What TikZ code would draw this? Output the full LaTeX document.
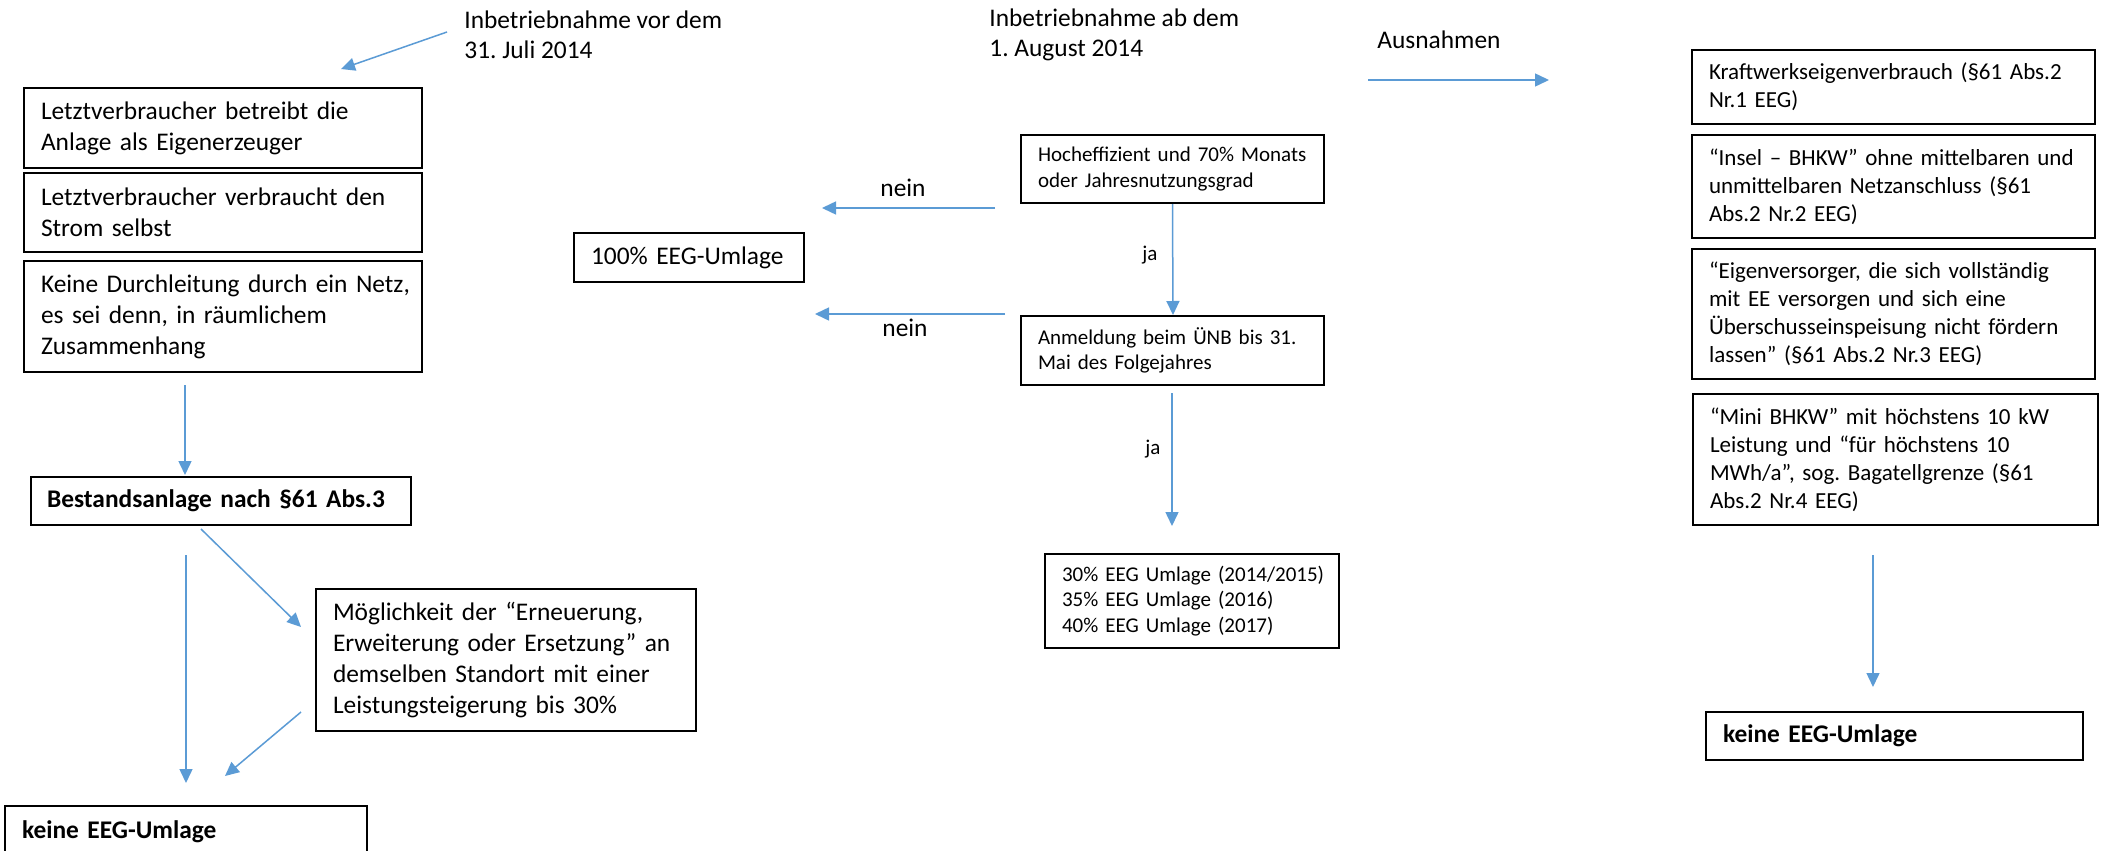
\documentclass[tikz,border=0pt]{standalone}
\usepackage{fontspec}
\setmainfont{Carlito}
\usetikzlibrary{arrows.meta}
\definecolor{arrowblue}{HTML}{5B9BD5}
\frenchspacing
\tikzset{
  bx/.style={draw=black, line width=1pt, inner xsep=8.5pt, inner ysep=0pt, align=left, anchor=center},
  fl/.style={font=\fontsize{12.7}{15.5}\selectfont},
  fr/.style={font=\fontsize{11.5}{14}\selectfont},
  fs/.style={font=\fontsize{10.5}{12.6}\selectfont},
  ft/.style={font=\fontsize{12.7}{15}\selectfont},
  conn/.style={draw=arrowblue, line width=0.75pt, -{Triangle[length=7pt,width=6.5pt]}},
  lbl/.style={inner sep=0pt, align=left}
}
\begin{document}
\begin{tikzpicture}[x=0.5pt, y=-0.5pt]
\path[fill=white] (0,0) rectangle (2101,851);
\useasboundingbox (0,0) rectangle (2101,851);

% titles
\node[lbl, ft, anchor=west] (t1) at (464,35) {Inbetriebnahme vor dem\\31. Juli 2014};
\node[lbl, ft, anchor=west] (t2) at (989,35) {Inbetriebnahme ab dem\\1. August 2014};
\node[lbl, ft, anchor=west] (t3) at (1377,40) {Ausnahmen};

% left column
\node[bx, fl, text width=182pt, minimum height=40pt] (L1) at (223,128) {\mbox{Letztverbraucher betreibt die}\\Anlage als Eigenerzeuger};
\node[bx, fl, text width=182pt, minimum height=39.5pt] (L2) at (223,212.5) {\mbox{Letztverbraucher verbraucht den}\\Strom selbst};
\node[bx, fl, text width=182pt, minimum height=55.5pt] (L3) at (223,316.5) {\mbox{Keine Durchleitung durch ein Netz,}\\\mbox{es sei denn, in räumlichem}\\Zusammenhang};
\node[bx, fl, text width=174pt, inner xsep=8pt, minimum height=24pt] (B) at (221,501) {\mbox{\textbf{Bestandsanlage nach §61 Abs.3}}};
\node[bx, fl, text width=173pt, minimum height=71pt] (M) at (506,660) {\mbox{Möglichkeit der “Erneuerung,}\\\mbox{Erweiterung oder Ersetzung” an}\\\mbox{demselben Standort mit einer}\\\mbox{Leistungsteigerung bis 30\%}};
\node[bx, fl, text width=164pt, minimum height=26pt] (KL) at (186,832) {\textbf{keine EEG-Umlage}};

% middle column
\node[bx, fs, text width=134.5pt, minimum height=34pt] (H) at (1172.5,169) {\mbox{Hocheffizient und 70\% Monats}\\oder Jahresnutzungsgrad};
\node[bx, fl, text width=98pt, minimum height=24.5pt] (P) at (689,257.5) {100\% EEG-Umlage};
\node[bx, fs, text width=134.5pt, minimum height=34.5pt] (A) at (1172.5,350.5) {\mbox{Anmeldung beim ÜNB bis 31.}\\Mai des Folgejahres};
\node[bx, fs, text width=130pt, minimum height=47pt] (U) at (1192,601) {\mbox{30\% EEG Umlage (2014/2015)}\\35\% EEG Umlage (2016)\\40\% EEG Umlage (2017)};

% right column
\node[bx, fr, text width=184.5pt, minimum height=37pt] (R1) at (1893.5,87) {\mbox{Kraftwerkseigenverbrauch (§61 Abs.2}\\Nr.1 EEG)};
\node[bx, fr, text width=184.5pt, minimum height=51.5pt] (R2) at (1893.5,186.5) {\mbox{“Insel – BHKW” ohne mittelbaren und}\\\mbox{unmittelbaren Netzanschluss (§61}\\Abs.2 Nr.2 EEG)};
\node[bx, fr, text width=184.5pt, minimum height=65pt] (R3) at (1893.5,314) {\mbox{“Eigenversorger, die sich vollständig}\\\mbox{mit EE versorgen und sich eine}\\\mbox{Überschusseinspeisung nicht fördern}\\\mbox{lassen” (§61 Abs.2 Nr.3 EEG)}};
\node[bx, fr, text width=185.5pt, minimum height=65.5pt] (R4) at (1895.5,459.5) {\mbox{“Mini BHKW” mit höchstens 10 kW}\\\mbox{Leistung und “für höchstens 10}\\\mbox{MWh/a”, sog. Bagatellgrenze (§61}\\Abs.2 Nr.4 EEG)};
\node[bx, fl, text width=171.5pt, minimum height=24pt] (KR) at (1894.5,736) {\textbf{keine EEG-Umlage}};

% connector end points
\coordinate (a1s) at (447,32);   \coordinate (a1e) at (341,69);
\coordinate (a2s) at (185,385);  \coordinate (a2e) at (185,475);
\coordinate (a3s) at (186,555);  \coordinate (a3e) at (186,783);
\coordinate (a4s) at (201,529);  \coordinate (a4e) at (301,627);
\coordinate (a5s) at (301,712);  \coordinate (a5e) at (225,776);
\coordinate (a6s) at (995,208);  \coordinate (a6e) at (822,208);
\coordinate (a7s) at (1005,314); \coordinate (a7e) at (815,314);
\coordinate (a8e) at (1173,315);
\coordinate (a9s) at (1172,393); \coordinate (a9e) at (1172,526);
\coordinate (a10s) at (1368,80); \coordinate (a10e) at (1549,80);
\coordinate (a11s) at (1873,555); \coordinate (a11e) at (1873,687);

\draw[conn] (a1s) -- (a1e);
\draw[conn] (a2s) -- (a2e);
\draw[conn] (a3s) -- (a3e);
\draw[conn] (a4s) -- (a4e);
\draw[conn] (a5s) -- (a5e);
\draw[conn] (a6s) -- (a6e);
\draw[conn] (a7s) -- (a7e);
\draw[conn] (H.south) -- (a8e);
\draw[conn] (a9s) -- (a9e);
\draw[conn] (a10s) -- (a10e);
\draw[conn] (a11s) -- (a11e);

% labels
\node[lbl, fl] (n1) at (903,188) {nein};
\node[lbl, fl] (n2) at (905,328) {nein};
\node[lbl, fs] (j1) at (1150,255) {ja};
\node[lbl, fs] (j2) at (1153,449) {ja};
\end{tikzpicture}
\end{document}
